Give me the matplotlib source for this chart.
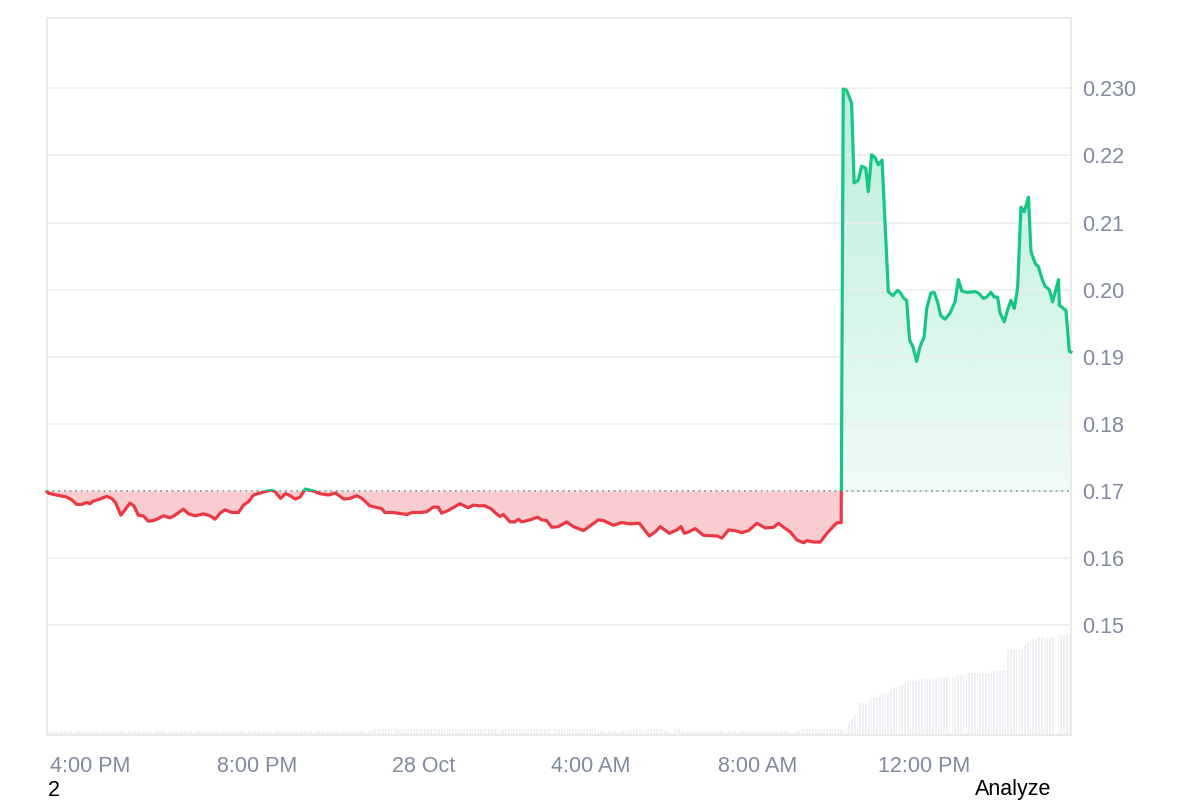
import numpy as np
import matplotlib
matplotlib.use('Agg')
import matplotlib.pyplot as plt
from matplotlib.patches import Rectangle
from matplotlib.path import Path
from matplotlib.colors import to_rgb

plt.rcParams['font.family'] = ['Liberation Sans', 'DejaVu Sans']

# price series, time in hours since 27 Oct 00:00
hours = [14.97, 15.00, 15.12, 15.28, 15.44, 15.56, 15.68, 15.80, 15.92, 16.00,
         16.08, 16.24, 16.40, 16.52, 16.62, 16.74, 16.84, 16.96, 17.05, 17.16,
         17.28, 17.40, 17.52, 17.64, 17.76, 17.92, 18.04, 18.24, 18.36, 18.52,
         18.72, 18.88, 19.00, 19.12, 19.24, 19.40, 19.56, 19.68, 19.80, 19.92,
         20.08, 20.24, 20.36, 20.44, 20.57, 20.69, 20.80, 20.92, 21.04, 21.16,
         21.36, 21.52, 21.72, 21.88, 22.00, 22.09, 22.23, 22.40, 22.52, 22.71,
         22.83, 22.99, 23.07, 23.27, 23.60, 23.72, 23.91, 24.07, 24.23, 24.35,
         24.43, 24.59, 24.87, 25.07, 25.19, 25.31, 25.47, 25.63, 25.71, 25.83,
         25.91, 26.07, 26.19, 26.27, 26.35, 26.55, 26.73, 26.83, 26.95, 27.07,
         27.23, 27.43, 27.59, 27.83, 27.99, 28.19, 28.31, 28.55, 28.75, 28.95,
         29.17, 29.41, 29.55, 29.67, 29.89, 30.07, 30.17, 30.25, 30.35, 30.51,
         30.71, 31.03, 31.15, 31.31, 31.47, 31.63, 31.79, 31.99, 32.19, 32.39,
         32.51, 32.63, 32.79, 32.95, 33.11, 33.19, 33.35, 33.51, 33.67, 33.83,
         33.92, 34.01,
         34.06, 34.14, 34.26, 34.32, 34.42, 34.50, 34.60, 34.66, 34.74, 34.82,
         34.90, 34.99, 35.14, 35.25, 35.36, 35.42, 35.50, 35.58, 35.65, 35.73,
         35.82, 35.90, 36.00, 36.06, 36.16, 36.24, 36.32, 36.40, 36.50, 36.62,
         36.74, 36.82, 36.90, 37.02, 37.22, 37.30, 37.42, 37.50, 37.60, 37.68,
         37.76, 37.82, 37.92, 38.00, 38.08, 38.16, 38.24, 38.32, 38.40, 38.50,
         38.56, 38.66, 38.74, 38.82, 38.90, 39.00, 39.08, 39.22, 39.24, 39.40,
         39.48, 39.52]

price = [0.1699, 0.1697, 0.1695, 0.1693, 0.1691, 0.1687, 0.1680, 0.1680, 0.1683, 0.1681,
         0.1685, 0.1688, 0.1692, 0.1689, 0.1682, 0.1664, 0.1672, 0.1682, 0.1678, 0.1664,
         0.1663, 0.1655, 0.1656, 0.1659, 0.1663, 0.1660, 0.1664, 0.1673, 0.1666, 0.1663,
         0.1666, 0.1663, 0.1658, 0.1667, 0.1672, 0.1668, 0.1668, 0.1679, 0.1684, 0.1694,
         0.1697, 0.1700, 0.1701, 0.1699, 0.1689, 0.1696, 0.1693, 0.1688, 0.1691, 0.1703,
         0.1700, 0.1696, 0.1694, 0.1697, 0.1692, 0.1688, 0.1689, 0.1693, 0.1689, 0.1678,
         0.1676, 0.1674, 0.1668, 0.1668, 0.1665, 0.1668, 0.1668, 0.1669, 0.1676, 0.1676,
         0.1667, 0.1671, 0.1681, 0.1675, 0.1679, 0.1678, 0.1678, 0.1673, 0.1668, 0.1662,
         0.1665, 0.1654, 0.1654, 0.1658, 0.1654, 0.1657, 0.1661, 0.1657, 0.1656, 0.1646,
         0.1647, 0.1654, 0.1647, 0.1641, 0.1648, 0.1657, 0.1656, 0.1649, 0.1653, 0.1651,
         0.1652, 0.1633, 0.1639, 0.1647, 0.1637, 0.1642, 0.1647, 0.1637, 0.1639, 0.1644,
         0.1634, 0.1633, 0.1630, 0.1642, 0.1641, 0.1638, 0.1641, 0.1652, 0.1645, 0.1646,
         0.1652, 0.1646, 0.1639, 0.1627, 0.1623, 0.1626, 0.1624, 0.1624, 0.1637, 0.1648,
         0.1653, 0.1653,
         0.2299, 0.2297, 0.2278, 0.2159, 0.2163, 0.2184, 0.2181, 0.2146, 0.2201, 0.2197,
         0.2186, 0.2193, 0.1997, 0.1991, 0.1999, 0.1996, 0.1988, 0.1984, 0.1925, 0.1915,
         0.1893, 0.1915, 0.1930, 0.1972, 0.1995, 0.1996, 0.1982, 0.1961, 0.1956, 0.1965,
         0.1982, 0.2015, 0.1998, 0.1996, 0.1997, 0.1995, 0.1987, 0.1989, 0.1996, 0.1989,
         0.1989, 0.1965, 0.1952, 0.1970, 0.1984, 0.1972, 0.2002, 0.2123, 0.2116, 0.2138,
         0.2057, 0.2039, 0.2034, 0.2017, 0.2005, 0.2000, 0.1982, 0.2015, 0.1977, 0.1969,
         0.1908, 0.1907]

base_price = 0.17

# volume bars, run-length: how many bars in a row share a level
vol_counts = [117, 80, 12, 3, 3, 6, 4, 2, 43, 17,
              1, 1, 1, 1, 3, 1, 3, 1, 3, 1, 2, 2, 1, 4, 6, 8, 4, 8, 6, 6, 1, 1, 1, 2, 6, 1, 5]
vol_levels = [4.5, 6.5, 4.5, 6.5, 4.5, 6.5, 4.5, 6.5, 4.5, 6.5,
              12, 16, 20, 24, 32, 34, 38, 40, 42, 46, 48, 50, 52, 54, 56, 58, 60, 62, 64,
              86, 90, 92, 94, 96, 98, 0, 100]

y_ticks = [0.15, 0.16, 0.17, 0.18, 0.19, 0.20, 0.21, 0.22, 0.23]
y_labels = ['0.15', '0.16', '0.17', '0.18', '0.19', '0.20', '0.21', '0.22', '0.230']
x_ticks = [16, 20, 24, 28, 32, 36]
x_labels = ['4:00 PM', '8:00 PM', '28 Oct', '4:00 AM', '8:00 AM', '12:00 PM']

RED = '#ea3943'
GREEN = '#16c784'
TXT = '#808a9d'

hours = np.array(hours)
price = np.array(price)
x0, x1 = hours[0], hours[-1]

fig = plt.figure(figsize=(12, 8), dpi=100)
pos = [47 / 1200, 65 / 800, 1024 / 1200, 717 / 800]

# volume underneath
ax_v = fig.add_axes(pos)
vol = np.repeat(vol_levels, vol_counts)
step = (x1 - x0) / len(vol)
bx = x0 + (np.arange(len(vol)) + 0.5) * step
ax_v.bar(bx, vol, width=step * 0.62, color='#eef0f4', linewidth=0)
ax_v.set_xlim(x0, x1)
ax_v.set_ylim(0, 717)
ax_v.axis('off')

ax = fig.add_axes(pos)
ax.patch.set_visible(False)
ax.set_xlim(x0, x1)
ax.set_ylim(0.13365, 0.24047)

# red area below baseline
ax.fill_between(hours, price, base_price, where=price < base_price,
                interpolate=True, color=RED, alpha=0.25, linewidth=0, zorder=1)

# green area above baseline, gradient
poly = ax.fill_between(hours, price, base_price, where=price >= base_price,
                       interpolate=True, facecolor='none', linewidth=0)
grad = np.zeros((256, 1, 4))
grad[..., :3] = to_rgb(GREEN)
grad[..., 3] = np.linspace(0.07, 0.30, 256)[:, None]
im = ax.imshow(grad, origin='lower', aspect='auto', zorder=1,
               extent=[x0, x1, base_price, price.max()])
im.set_clip_path(Path.make_compound_path(*poly.get_paths()), ax.transData)
ax.set_xlim(x0, x1)
ax.set_ylim(0.13365, 0.24047)

ax.axhline(base_price, color='#8e8e8e', lw=1.2, ls=(0, (1, 2.4)), zorder=2)

lg, = ax.plot(hours, price, color=GREEN, lw=2.3, solid_joinstyle='round', zorder=3)
lg.set_clip_path(Rectangle((x0 - 1, base_price), 100, 1, transform=ax.transData))
lr, = ax.plot(hours, price, color=RED, lw=2.3, solid_joinstyle='round', zorder=3)
lr.set_clip_path(Rectangle((x0 - 1, base_price - 1), 100, 1, transform=ax.transData))

ax.set_yticks(y_ticks)
ax.set_yticklabels(y_labels)
ax.yaxis.tick_right()
ax.set_xticks(x_ticks)
ax.set_xticklabels(x_labels)
ax.grid(axis='y', color='#eeeeee', lw=1.2, zorder=0)
ax.tick_params(axis='y', length=0, pad=8, labelsize=15.5, labelcolor=TXT)
ax.tick_params(axis='x', length=0, pad=15, labelsize=15.5, labelcolor=TXT)
for s in ax.spines.values():
    s.set_color('#e8e8e8')
    s.set_linewidth(1.3)

fig.text(48 / 1200, 1 - 790 / 800, '2', fontsize=15.5, color='black', va='center', ha='left')
fig.text(1051 / 1200, 1 - 790 / 800, 'Analyze', fontsize=15.5, color='black', va='center', ha='right')

fig.savefig('out.png', dpi=100)
